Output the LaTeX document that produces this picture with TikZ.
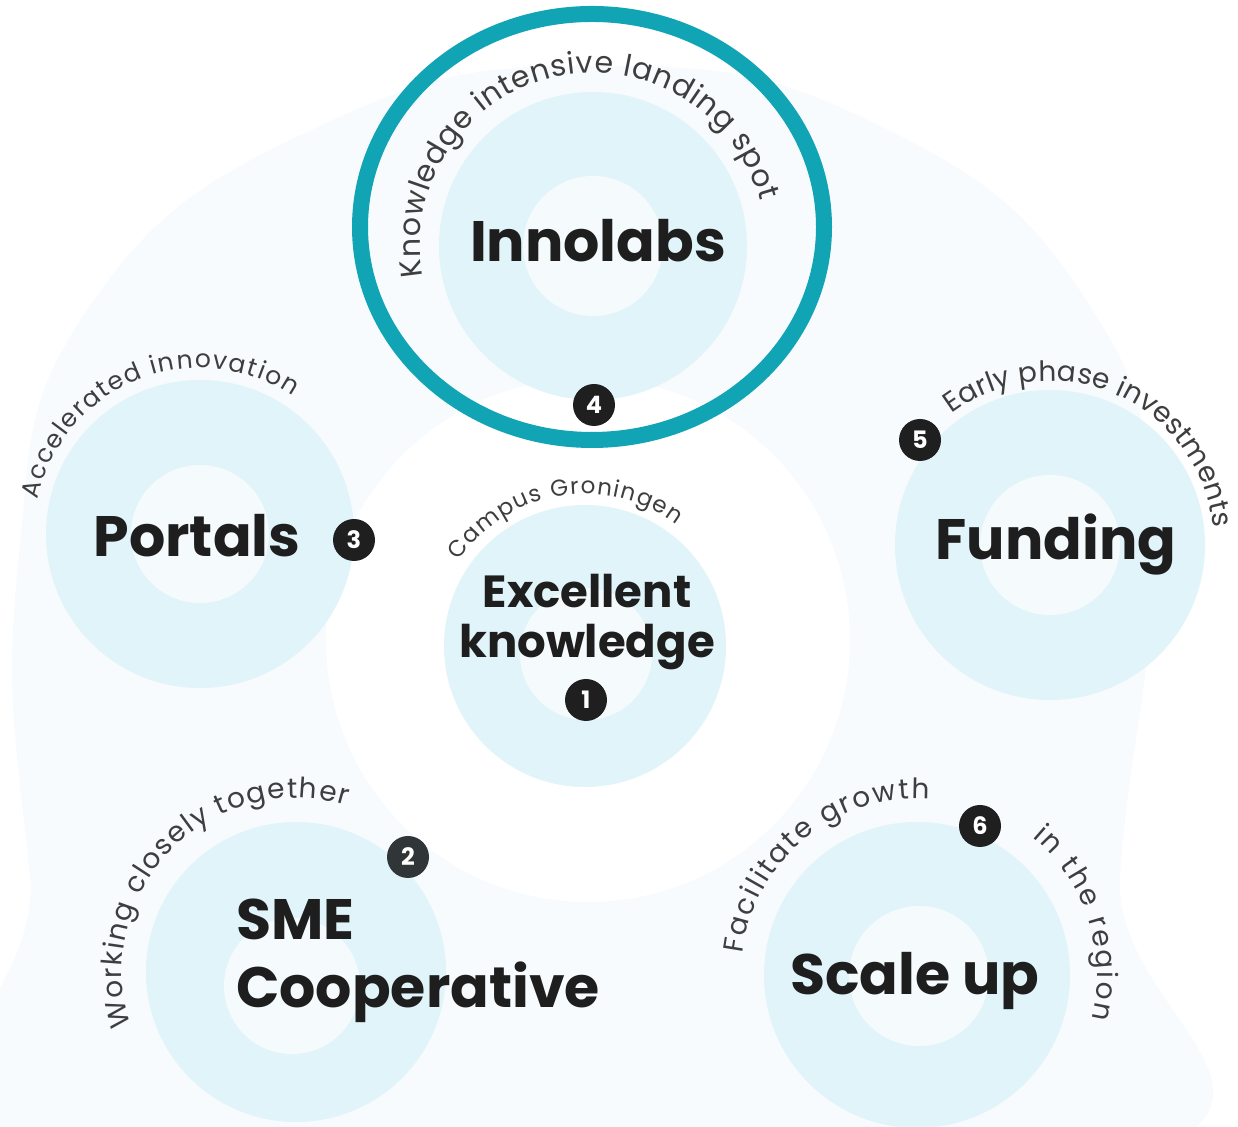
\documentclass[tikz,border=0pt]{standalone}
\usepackage{fontspec}
\setmainfont{Poppins}
\usetikzlibrary{decorations.text}
\definecolor{ringblue}{RGB}{224,244,250}
\definecolor{ringcore}{RGB}{245,251,253}
\definecolor{blobcol}{RGB}{247,251,253}
\definecolor{tealring}{RGB}{17,164,180}
\definecolor{txtdark}{RGB}{30,30,30}
\definecolor{txtarc}{RGB}{62,62,62}
\definecolor{badgegray}{RGB}{48,54,56}
\newcommand\arcfontL{\fontsize{30}{30}\selectfont}
\newcommand\arcfontM{\fontsize{28}{28}\selectfont}
\newcommand\arcfontS{\fontsize{25}{25}\selectfont}
\newcommand\arcfontT{\fontsize{23}{23}\selectfont}
\tikzset{
  ringouter/.style={circle, fill=ringblue, inner sep=0, minimum size=#1},
  ringinner/.style={circle, fill=ringcore, inner sep=0, minimum size=#1},
  biglabel/.style={inner sep=0, text=txtdark, font=\fontsize{57}{57}\selectfont\bfseries},
  midlabel/.style={inner sep=0, text=txtdark, font=\fontsize{45}{45}\selectfont\bfseries},
  badge/.style={circle, fill=black!88, text=white, inner sep=0, minimum size=42pt,
    font=\fontsize{24}{24}\selectfont\bfseries},
  arctext/.style={decorate, decoration={text along path, text align={fit to path}, text color=txtarc}}
}
\begin{document}
\begin{tikzpicture}[x=1pt,y=1pt]
\useasboundingbox (0,0) rectangle (1238,1126);
\fill[white] (0,0) rectangle (1238,1126);
% faint background blob
\fill[blobcol] plot[smooth cycle, tension=0.8] coordinates {
  (600,1060) (880,1000) (1090,820) (1150,580) (1120,250) (1110,-40)
  (80,-40) (30,250) (18,560) (90,820) (320,1000)};
\fill[white] (588,486) circle[radius=262pt];
% rings
\node[ringouter=308pt] (innoring) at (593,880) {};
\node[ringinner=140pt] (innocore) at (593,880) {};
\node[ringouter=308pt] (portring) at (200,592) {};
\node[ringinner=138pt] (portcore) at (200,592) {};
\node[ringouter=310pt] (fundring) at (1050,581) {};
\node[ringinner=140pt] (fundcore) at (1050,581) {};
\node[ringouter=282pt] (excring) at (585,480) {};
\node[ringinner=132pt] (exccore) at (586,472) {};
\node[ringouter=300pt] (smering) at (296,154) {};
\node[ringinner=136pt] (smecore) at (292,140) {};
\node[ringouter=306pt] (scalering) at (917,151) {};
\node[ringinner=140pt] (scalecore) at (919,150) {};
% teal highlight
\draw[tealring, line width=16pt] (592,899) ellipse[x radius=232pt, y radius=213pt];
% curved texts
\path[arctext, decoration={text={|\arcfontL|Knowledge intensive landing spot}}]
  (innoring.center) ++(190:173pt) arc[start angle=190, end angle=15, radius=173pt];
\path[arctext, decoration={text={|\arcfontS|Accelerated innovation}}]
  (portring.center) ++(168:166pt) arc[start angle=168, end angle=56, radius=166pt];
\path[arctext, decoration={text={|\arcfontT|Campus Groningen}}]
  (excring.center) ++(146:152pt) arc[start angle=146, end angle=53, radius=152pt];
\path[arctext, decoration={text={|\arcfontM|Early phase investments}}]
  (fundring.center) ++(127:164pt) arc[start angle=127, end angle=6, radius=164pt];
\path[arctext, decoration={text={|\arcfontM|Working closely together}}]
  (smering.center) ++(198:174pt) arc[start angle=198, end angle=73, radius=174pt];
\path[arctext, decoration={text={|\arcfontM|Facilitate growth}}]
  (scalering.center) ++(173:176pt) arc[start angle=173, end angle=86, radius=176pt];
\path[arctext, decoration={text={|\arcfontM|in the region}}]
  (scalering.center) ++(50:180pt) arc[start angle=50, end angle=-14, radius=180pt];
% labels
\node[biglabel, anchor=base] (innolabs) at (598,864) {Innolabs};
\node[biglabel, anchor=base] (portals) at (197,569) {Portals};
\node[biglabel, anchor=base] (funding) at (1056,566) {Funding};
\node[midlabel, anchor=base] (excellent) at (587,518) {Excellent};
\node[midlabel, anchor=base] (knowledge) at (587,468) {knowledge};
\node[biglabel, anchor=base west] (sme) at (236,186) {SME};
\node[biglabel, anchor=base west] (coop) at (236,118) {Cooperative};
\node[biglabel, anchor=base] (scaleup) at (915,131) {Scale up};
% badges
\node[badge] (b1) at (586,426) {1};
\node[badge, fill=badgegray] (b2) at (408,269) {2};
\node[badge] (b3) at (354,586) {3};
\node[badge] (b4) at (594,721) {4};
\node[badge] (b5) at (920,686) {5};
\node[badge] (b6) at (980,300) {6};
\end{tikzpicture}
\end{document}
